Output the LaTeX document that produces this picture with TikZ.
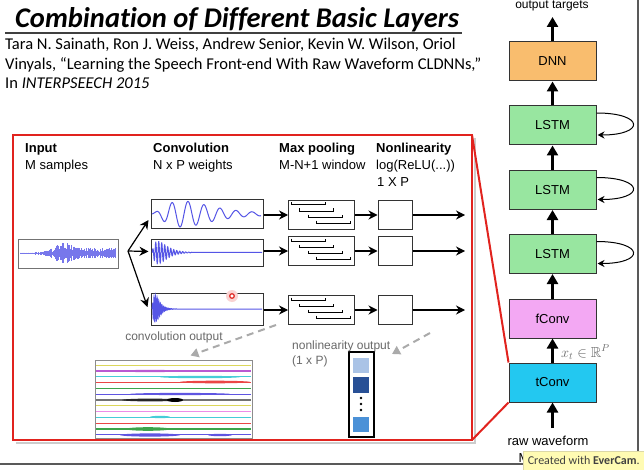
\documentclass[tikz,border=0pt]{standalone}
\usepackage{amsmath, amssymb}
\usepackage{fontspec}
\setmainfont{Liberation Sans}
\newfontfamily\calibri[Ligatures=NoCommon]{Carlito}
\usepackage{tikz}
\usetikzlibrary{arrows.meta, calc}
\definecolor{slidered}{RGB}{225, 35, 30}
\definecolor{wavblue}{RGB}{85, 85, 230}
\definecolor{dnnorange}{RGB}{249, 189, 110}
\definecolor{lstmgreen}{RGB}{152, 230, 160}
\definecolor{fconvpink}{RGB}{243, 168, 243}
\definecolor{tconvcyan}{RGB}{35, 200, 240}
\definecolor{hintgray}{RGB}{105, 105, 105}
\definecolor{dashgray}{RGB}{170, 170, 170}
\definecolor{chyellow}{RGB}{220, 215, 90}
\definecolor{chpurple}{RGB}{185, 90, 210}
\definecolor{chcyan}{RGB}{70, 205, 215}
\definecolor{chred}{RGB}{235, 70, 70}
\definecolor{chgreen}{RGB}{60, 165, 75}
\definecolor{chblue}{RGB}{95, 85, 225}
\definecolor{chpink}{RGB}{238, 140, 232}
\definecolor{vecpale}{RGB}{170, 195, 230}
\definecolor{vecdark}{RGB}{40, 80, 150}
\definecolor{vecmid}{RGB}{75, 145, 215}

\begin{document}
\begin{tikzpicture}[x=1pt, y=-1pt, >=Stealth,
    layer/.style={draw=black!80, line width=1pt, minimum width=87pt, minimum height=39pt,
        inner sep=0pt, font=\fontsize{13}{13}\selectfont},
    up/.style={line width=3pt, -{Triangle[length=10pt, width=11pt]}},
    flow/.style={line width=1.3pt, -{Stealth[length=9pt, width=9pt]}},
    box/.style={draw=black!80, line width=1pt, inner sep=0pt},
    hd/.style={anchor=base west, inner sep=0pt, font=\fontsize{13}{13}\selectfont\bfseries},
    sub/.style={anchor=base west, inner sep=0pt, font=\fontsize{13}{13}\selectfont},
    wave/.style={wavblue, line width=1pt}]
    \useasboundingbox (0,0) rectangle (644,470);
    \fill[white] (0,0) rectangle (644,470);

    % title and reference
    \node[anchor=base west, inner sep=0pt, font=\calibri\fontsize{28.5}{28.5}\selectfont\bfseries\itshape] (title) at (15,28) {Combination of Different Basic Layers};
    \draw[black!75, line width=2pt] (5,33) -- (462,33);
    \node[anchor=base west, inner sep=0pt, font=\calibri\fontsize{16.5}{20}\selectfont] (ref1) at (5,50) {Tara N. Sainath, Ron J. Weiss, Andrew Senior, Kevin W. Wilson, Oriol};
    \node[anchor=base west, inner sep=0pt, font=\calibri\fontsize{16.5}{20}\selectfont] (ref2) at (5,70) {Vinyals, “Learning the Speech Front-end With Raw Waveform CLDNNs,”};
    \node[anchor=base west, inner sep=0pt, font=\calibri\fontsize{16.5}{20}\selectfont] (ref3) at (5,89) {In \textit{INTERPSEECH 2015}};

    % screen edge
    \draw[black!65, line width=2pt] (0,464) -- (638,464) -- (638,0);

    % CLDNN stack
    \node[layer, fill=dnnorange] (dnn) at (552.5,61.5) {DNN};
    \node[layer, fill=lstmgreen] (lstm1) at (552.5,125.5) {LSTM};
    \node[layer, fill=lstmgreen] (lstm2) at (552.5,190) {LSTM};
    \node[layer, fill=lstmgreen] (lstm3) at (552.5,254) {LSTM};
    \node[layer, fill=fconvpink] (fconv) at (552.5,318.5) {fConv};
    \node[layer, fill=tconvcyan] (tconv) at (552.5,382.5) {tConv};
    \coordinate (targets) at (552.5,17);
    \coordinate (rawin) at (552.5,428);
    \node[anchor=base, inner sep=0pt, font=\fontsize{12}{12}\selectfont] (targetlbl) at (552,9) {output targets};
    \draw[up] (dnn) -- (targets);
    \draw[up] (lstm1) -- (dnn);
    \draw[up] (lstm2) -- (lstm1);
    \draw[up] (lstm3) -- (lstm2);
    \draw[up] (fconv) -- (lstm3);
    \draw[up] (tconv) -- (fconv);
    \draw[up] (rawin) -- (tconv);
    \foreach \l in {lstm1,lstm2,lstm3}
        \draw[line width=1pt, -{Stealth[length=7pt, width=7pt]}] ($(\l.east)+(0,-12.5)$) .. controls +(48,0) and +(48,0) .. ($(\l.east)+(1,9.5)$);
    \node[anchor=base west, inner sep=0pt, text=hintgray, font=\fontsize{14.5}{14.5}\selectfont] (xt) at (561,357) {$x_t \in \mathbb{R}^P$};
    \node[anchor=base, inner sep=0pt, font=\fontsize{13}{13}\selectfont] (rawlbl) at (548,445) {raw waveform};
    \begin{scope}
        \clip (500,450) rectangle (523,470);
        \node[anchor=base, inner sep=0pt, font=\fontsize{13}{13}\selectfont] (samplbl) at (550,462) {M samples};
    \end{scope}

    % zoomed tConv frame
    \coordinate (frameNE) at (472,135);
    \coordinate (frameSE) at (472,440);
    \draw[black!20, line width=2pt] (16,442.5) -- (474.5,442.5) -- (474.5,138);
    \draw[slidered, line width=2.5pt] (13,135) rectangle (472,440);
    \draw[slidered, line width=2pt] (frameNE) -- (tconv.north west);
    \draw[slidered, line width=2pt] (frameSE) -- (tconv.south west);

    % column headings
    \node[hd] (inhd) at (25,153) {Input};
    \node[sub] (insub) at (25,170) {M samples};
    \node[hd] (convhd) at (153,153) {Convolution};
    \node[sub] (convsub) at (153,170) {N x P weights};
    \node[hd] (poolhd) at (279,153) {Max pooling};
    \node[sub] (poolsub) at (279,170) {M-N+1 window};
    \node[hd] (nlhd) at (376,153) {Nonlinearity};
    \node[sub] (nlsub) at (376,170) {log(ReLU(...))};
    \node[sub] (nlsub2) at (377,186) {1 X P};

    % input waveform
    \node[box, draw=black!55, minimum width=100pt, minimum height=29pt] (inwave) at (68,253.5) {};
    \draw[wavblue!80, line width=0.6pt] (20,253.5) -- (116,253.5);
    \pgfmathsetseed{12}
    \foreach \i in {0,...,145} {
        \pgfmathsetmacro\xx{20+0.66*\i}
        \pgfmathsetmacro\uu{(\xx-64)/9}
        \pgfmathsetmacro\env{1+6.5*exp(-\uu*\uu)+4.5/(1+exp(-(\xx-48)/4))}
        \pgfmathsetmacro\hh{\env*(0.35+0.65*rnd)}
        \draw[wavblue!80, line width=0.6pt] (\xx,{253.5-\hh}) -- (\xx,{253.5+0.9*\hh});
    }

    % filters
    \node[box, minimum width=112pt, minimum height=29pt] (conv1) at (207,214) {};
    \node[box, minimum width=112pt, minimum height=27pt] (conv2) at (207,252.5) {};
    \node[box, minimum width=112pt, minimum height=32pt] (conv3) at (207,309) {};
    \draw[wave] plot[domain=0:109, samples=250, smooth] ({152+\x}, {214-(1+12*(\x/30)*(\x/30)*exp(2*(1-\x/30)))*sin(22.5*\x)});
    \draw[wave] plot[domain=0:40, samples=360] ({152+\x}, {252.5-11*(\x/6)*exp(1-\x/6)*sin(120*\x)}) -- (262,252.5);
    \draw[wave] plot[domain=0:25, samples=300] ({152+\x}, {309-13*(\x/3)*exp(1-\x/3)*sin(225*\x)}) -- (262,309);

    \coordinate (fork) at (128,251);
    \draw[flow, line width=1.2pt] (fork) -- ($(conv1.west)+(-2,6)$);
    \draw[flow, line width=1.2pt] (fork) -- ($(conv2.west)+(-2,-1)$);
    \draw[flow, line width=1.2pt] (fork) -- ($(conv3.west)+(-3,-2)$);

    % pooling and nonlinearity
    \foreach \k/\y in {1/215, 2/251, 3/310} {
        \node[box, minimum width=66pt, minimum height=29pt] (pool\k) at (321.5,\y) {};
        \node[box, minimum width=34pt, minimum height=29pt] (nl\k) at (395,\y) {};
        \draw[flow] (conv\k.east |- pool\k.west) -- (pool\k.west);
        \draw[flow] (pool\k) -- (nl\k);
        \draw[flow] (nl\k.east) -- (465,\y);
    }
    \foreach \p in {pool1,pool2,pool3}
        \foreach \i in {0,...,3}
            \draw[line width=1pt] ($(\p.north west)+(3.5+8.3*\i,2.5+6*\i)$) -- ++(0,2.5) -- ++(34,0) -- ++(0,-2.5);

    % cursor mark
    \fill[slidered!20] (232,296) circle (6);
    \draw[slidered, line width=1.2pt, fill=white] (232,296) circle (2.3);

    % outputs
    \node[box, draw=black!45, minimum width=157pt, minimum height=78pt] (convimg) at (173.5,399) {};
    \foreach \c [count=\k] in {chyellow, chpurple, chcyan, chred, chgreen, chblue, black!55,
        chyellow, chpink, chcyan, chred, chgreen, chblue}
        \draw[\c, line width=1.2pt] (96,{359.4+5.8*\k}) -- (251,{359.4+5.8*\k});
    \fill[chpurple] (150,371) ellipse (35 and 1.1);
    \fill[chcyan] (200,377) ellipse (40 and 1.2);
    \fill[chred] (215,382) ellipse (35 and 1.3);
    \fill[chblue] (180,394) ellipse (50 and 1.1);
    \fill[black!85] (150,400) ellipse (28 and 1.4);
    \fill[black] (175,400) ellipse (8 and 2);
    \fill[chcyan] (160,417) ellipse (10 and 1.2);
    \fill[chgreen] (148,429) ellipse (22 and 1.8);
    \fill[chblue] (150,435) ellipse (30 and 1.6);
    \fill[chblue] (220,435) ellipse (12 and 1.2);

    \node[box, line width=2pt, draw=black, minimum width=25pt, minimum height=85pt] (nlvec) at (361.5,394.5) {};
    \fill[vecpale] (353,358) rectangle (369,373);
    \fill[vecdark] (353,377) rectangle (369,393);
    \foreach \d in {398,404,410} \fill (361,\d) circle (1.3);
    \fill[vecmid] (353,417) rectangle (369,432);

    \coordinate (convtap) at (276,325);
    \coordinate (nltap) at (430,333);
    \draw[dashgray, line width=2pt, dash pattern=on 7pt off 5pt, -{Triangle[length=8pt, width=9pt]}] (convtap) -- ($(convimg.north)+(17,-4)$);
    \draw[dashgray, line width=2pt, dash pattern=on 7pt off 5pt, -{Triangle[length=8pt, width=9pt]}] (nltap) -- ($(nlvec.north east)+(17,3)$);
    \node[anchor=base, inner sep=0pt, text=hintgray, font=\fontsize{12}{12}\selectfont] (convlbl) at (174,340) {convolution output};
    \node[anchor=base west, inner sep=0pt, text=hintgray, font=\fontsize{12}{12}\selectfont] (nllbl) at (292,349) {nonlinearity output};
    \node[anchor=base west, inner sep=0pt, text=hintgray, font=\fontsize{12}{12}\selectfont] (nllbl2) at (292,364) {(1 x P)};

    % recorder watermark
    \node[draw=yellow!60!black!40, fill=yellow!30, anchor=north west, minimum width=121pt, minimum height=19pt,
        inner sep=2pt, font=\calibri\fontsize{12}{12}\selectfont, text=black!75] (mark) at (523,451) {Created with \textbf{EverCam}.};
\end{tikzpicture}
\end{document}
